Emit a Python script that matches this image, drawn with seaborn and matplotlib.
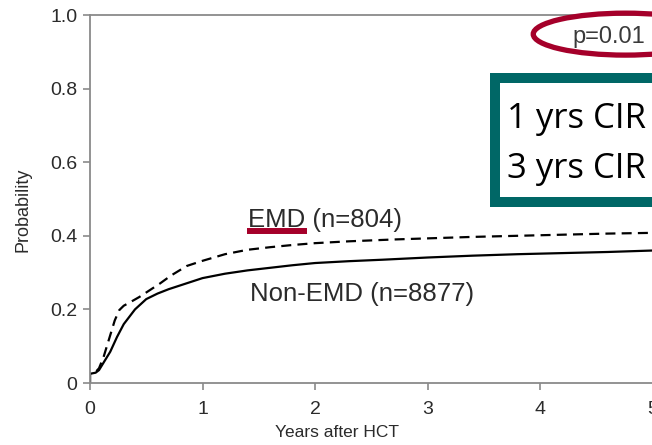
import numpy as np
import pandas as pd
import seaborn as sns
import matplotlib
matplotlib.use("Agg")
import matplotlib.pyplot as plt
from matplotlib.patches import Ellipse, Rectangle

# Cumulative incidence of relapse after HCT
years_non_emd = [0, 0, 0.05, 0.08, 0.12, 0.18, 0.24, 0.30, 0.40, 0.50, 0.60, 0.70,
                 0.80, 0.90, 1.00, 1.20, 1.40, 1.60, 1.80, 2.00, 2.30, 2.60, 3.00,
                 3.40, 3.80, 4.20, 4.60, 5.00, 5.60]
cir_non_emd = [0, 0.025, 0.028, 0.035, 0.055, 0.085, 0.125, 0.160, 0.200, 0.228,
               0.243, 0.255, 0.265, 0.275, 0.285, 0.297, 0.306, 0.313, 0.320, 0.326,
               0.331, 0.335, 0.341, 0.346, 0.350, 0.353, 0.356, 0.360, 0.362]

years_emd = [0, 0, 0.05, 0.08, 0.12, 0.17, 0.22, 0.26, 0.30, 0.36, 0.44, 0.52, 0.62,
             0.72, 0.86, 1.00, 1.20, 1.40, 1.60, 1.80, 2.00, 2.30, 2.70, 3.00, 3.40,
             3.80, 4.20, 4.60, 5.00, 5.60]
cir_emd = [0, 0.025, 0.030, 0.040, 0.070, 0.120, 0.170, 0.198, 0.210, 0.220, 0.234,
           0.250, 0.270, 0.292, 0.318, 0.332, 0.350, 0.362, 0.369, 0.375, 0.380,
           0.385, 0.390, 0.393, 0.397, 0.400, 0.403, 0.406, 0.408, 0.410]

x_ticks = [0, 1, 2, 3, 4, 5]
y_ticks = [0, 0.2, 0.4, 0.6, 0.8, 1.0]
y_tick_labels = ["0", "0.2", "0.4", "0.6", "0.8", "1.0"]

label_emd = "EMD (n=804)"
label_non_emd = "Non-EMD (n=8877)"
p_text = "p=0.01"
cir_lines = ["1 yrs CIR", "3 yrs CIR"]

sns.set_theme(style="ticks")
plt.rcParams["font.family"] = ["Liberation Sans", "DejaVu Sans"]

W, H = 652, 445
fig = plt.figure(figsize=(W / 100, H / 100), dpi=100)
ax = fig.add_axes([90 / W, (H - 383) / H, 630 / W, 368 / H])

grey = "#8a8a8a"
text_col = "#2b2b2b"

non_df = pd.DataFrame({"years": years_non_emd, "cir": cir_non_emd})
emd_df = pd.DataFrame({"years": years_emd, "cir": cir_emd})

sns.lineplot(data=non_df, x="years", y="cir", estimator=None, sort=False,
             color="black", linewidth=1.6, ax=ax)
sns.lineplot(data=emd_df, x="years", y="cir", estimator=None, sort=False,
             color="black", linewidth=1.6, linestyle=(0, (4.5, 2.8)), ax=ax)

ax.set_xlim(0, 5.6)
ax.set_ylim(0, 1.0)
ax.set_xticks(x_ticks)
ax.set_xticklabels([str(t) for t in x_ticks])
ax.set_yticks(y_ticks)
ax.set_yticklabels(y_tick_labels)

for side in ["left", "bottom", "top", "right"]:
    ax.spines[side].set_color(grey)
    ax.spines[side].set_linewidth(1.3)

ax.tick_params(axis="both", colors=grey, labelcolor=text_col, labelsize=14,
               width=1.2, length=5)
ax.tick_params(axis="y", pad=4)
ax.tick_params(axis="x", pad=8)

ax.set_xlabel("Years after HCT", fontsize=12.5, color=text_col)
ax.set_ylabel("Probability", fontsize=13, color=text_col)
ax.xaxis.set_label_coords((337 - 90) / 630, -0.115)
ax.yaxis.set_label_coords((32 - 90) / 630, 0.47)

# curve labels
ax.text(1.404, 0.424, label_emd, fontsize=18.5, color=text_col, va="baseline", ha="left")
ax.text(1.42, 0.223, label_non_emd, fontsize=18.5, color=text_col, va="baseline", ha="left")
ax.plot([1.396, 1.93], [0.413, 0.413], color="#a5002a", linewidth=4.3,
        solid_capstyle="butt", clip_on=False)

# p-value with highlight ring
ax.text(4.284, 0.924, p_text, fontsize=17, color="#3a3a3a", va="baseline", ha="left")
ax.add_patch(Ellipse((4.76, 0.948), 1.64, 0.114, fill=False, edgecolor="#a5002a",
                     linewidth=3.8, clip_on=False, zorder=5))

# CIR box
ax.add_patch(Rectangle((3.6, 0.492), 3.0, 0.337, facecolor="white",
                       edgecolor="#006766", linewidth=7.2, clip_on=False, zorder=4))
ax.text(3.71, (383 - 128) / 368, cir_lines[0], fontsize=25, color="black",
        family=["Open Sans", "DejaVu Sans"], va="baseline", ha="left", zorder=6,
        clip_on=False)
ax.text(3.71, (383 - 178) / 368, cir_lines[1], fontsize=25, color="black",
        family=["Open Sans", "DejaVu Sans"], va="baseline", ha="left", zorder=6,
        clip_on=False)

fig.savefig("out.png", dpi=100)
